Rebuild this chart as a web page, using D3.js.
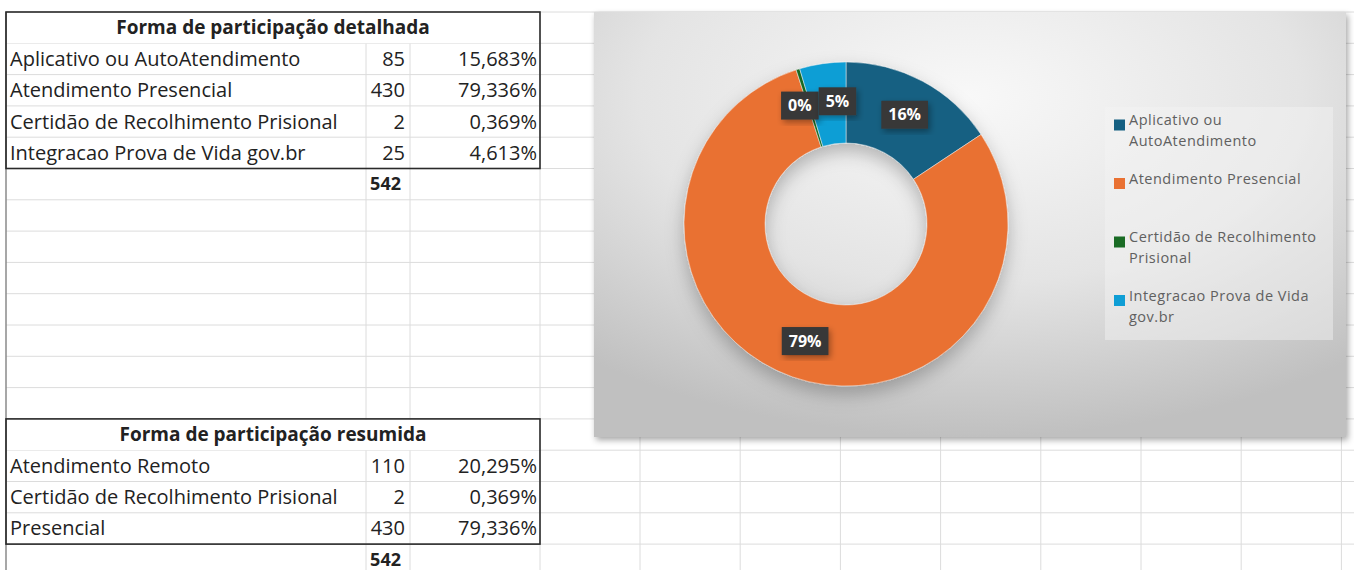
<!DOCTYPE html>
<html>
<head>
<meta charset="utf-8">
<script src="https://cdn.jsdelivr.net/npm/d3@7"></script>
<style>
    body { margin: 0; background: #fff; }
    svg { display: block; }
</style>
</head>
<body>
<svg id="sheet" width="1354" height="570"></svg>
<script>
// detailed table
const detailNames = ["Aplicativo ou AutoAtendimento", "Atendimento Presencial", "Certidão de Recolhimento Prisional", "Integracao Prova de Vida gov.br"];
const detailCounts = [85, 430, 2, 25];
const detailPcts = ["15,683%", "79,336%", "0,369%", "4,613%"];
const detailTotal = 542;

// summary table
const summaryNames = ["Atendimento Remoto", "Certidão de Recolhimento Prisional", "Presencial"];
const summaryCounts = [110, 2, 430];
const summaryPcts = ["20,295%", "0,369%", "79,336%"];
const summaryTotal = 542;

const sliceColors = ["#156082", "#E97132", "#196B24", "#0F9ED5"];

const svg = d3.select("#sheet");
const cellFont = "'Open Sans', sans-serif";
const rowH = 31.3;
const sheetTop = 12;
const rowY = i => sheetTop + i * rowH;
const colA = 6, colB = 366, colC = 410, colEnd = 540;

// spreadsheet gridlines
const grid = svg.append("g").attr("stroke", "#dcdcdc").attr("stroke-width", 1);
d3.range(0, 19).forEach(i => {
    grid.append("line").attr("x1", colA).attr("x2", 1354).attr("y1", rowY(i)).attr("y2", rowY(i));
});
[colB, colC, colEnd].concat(d3.range(640, 1354, 100.2)).forEach(x => {
    grid.append("line").attr("x1", x).attr("x2", x).attr("y1", sheetTop).attr("y2", 570);
});
svg.append("line").attr("x1", colA).attr("x2", colA).attr("y1", sheetTop).attr("y2", 570)
    .attr("stroke", "#8a8a8a").attr("stroke-width", 1.5);

function drawTable(startRow, title, names, counts, pcts, total) {
    const g = svg.append("g").attr("font-family", cellFont).attr("fill", "#222");
    // merged title cell hides the gridlines
    g.append("rect")
        .attr("x", colA + 1).attr("y", rowY(startRow) + 1)
        .attr("width", colEnd - colA - 2).attr("height", rowH - 1)
        .attr("fill", "#fff");
    g.append("text")
        .attr("x", (colA + colEnd) / 2)
        .attr("y", rowY(startRow) + rowH / 2)
        .attr("dy", "0.35em")
        .attr("text-anchor", "middle")
        .attr("font-size", 19)
        .attr("font-weight", "bold")
        .text(title);

    names.forEach((name, i) => {
        const cy = rowY(startRow + 1 + i) + rowH / 2;
        g.append("text").attr("x", colA + 4).attr("y", cy).attr("dy", "0.35em")
            .attr("font-size", 20).text(name);
        g.append("text").attr("x", colC - 5).attr("y", cy).attr("dy", "0.35em")
            .attr("text-anchor", "end").attr("font-size", 20).text(counts[i]);
        g.append("text").attr("x", colEnd - 3).attr("y", cy).attr("dy", "0.35em")
            .attr("text-anchor", "end").attr("font-size", 20).text(pcts[i]);
    });

    const totalRow = startRow + 1 + names.length;
    g.append("text")
        .attr("x", colC - 9).attr("y", rowY(totalRow) + rowH / 2).attr("dy", "0.35em")
        .attr("text-anchor", "end").attr("font-size", 18).attr("font-weight", "bold")
        .text(total);

    // table border
    g.append("rect")
        .attr("x", colA).attr("y", rowY(startRow))
        .attr("width", colEnd - colA).attr("height", rowH * (names.length + 1))
        .attr("fill", "none").attr("stroke", "#2a2a2a").attr("stroke-width", 1.6);
}

drawTable(0, "Forma de participação detalhada", detailNames, detailCounts, detailPcts, detailTotal);
drawTable(13, "Forma de participação resumida", summaryNames, summaryCounts, summaryPcts, summaryTotal);

// chart area
const defs = svg.append("defs");
const bg = defs.append("radialGradient").attr("id", "chartBg")
    .attr("cx", 0.5).attr("cy", 0.2).attr("r", 0.8);
bg.append("stop").attr("offset", "0%").attr("stop-color", "#f8f8f8");
bg.append("stop").attr("offset", "55%").attr("stop-color", "#e4e4e4");
bg.append("stop").attr("offset", "100%").attr("stop-color", "#c0c0c0");

const shadow = defs.append("filter").attr("id", "shadow")
    .attr("x", "-10%").attr("y", "-10%").attr("width", "130%").attr("height", "130%");
shadow.append("feDropShadow").attr("dx", 2).attr("dy", 3).attr("stdDeviation", 3)
    .attr("flood-color", "#000").attr("flood-opacity", 0.35);

const softShadow = defs.append("filter").attr("id", "softShadow")
    .attr("x", "-20%").attr("y", "-20%").attr("width", "140%").attr("height", "150%");
softShadow.append("feDropShadow").attr("dx", 0).attr("dy", 8).attr("stdDeviation", 9)
    .attr("flood-color", "#000").attr("flood-opacity", 0.25);

const chartX = 594, chartY = 12, chartW = 752, chartH = 425;
svg.append("rect")
    .attr("x", chartX).attr("y", chartY).attr("width", chartW).attr("height", chartH)
    .attr("fill", "url(#chartBg)")
    .attr("filter", "url(#shadow)");

// donut
const cx = 846, cy = 224, outerR = 162, innerR = 81;
const pie = d3.pie().sort(null).value(d => d.count);
const arc = d3.arc().innerRadius(innerR).outerRadius(outerR);
const slices = pie(detailNames.map((name, i) => ({ name: name, count: detailCounts[i], color: sliceColors[i] })));
const total = d3.sum(detailCounts);

const donut = svg.append("g").attr("transform", `translate(${cx},${cy})`);
donut.append("g").attr("filter", "url(#softShadow)")
    .selectAll("path")
    .data(slices)
    .join("path")
    .attr("d", arc)
    .attr("fill", d => d.data.color)
    .attr("stroke", "#f0f0f0")
    .attr("stroke-width", 0.5);

// data labels (dark boxes)
const labelArc = d3.arc().innerRadius(124).outerRadius(124);
const labels = donut.append("g")
    .attr("font-family", "'Open Sans', sans-serif")
    .attr("font-size", 16)
    .attr("font-weight", "bold");

const labelItems = slices.map(d => {
    const [lx, ly] = labelArc.centroid(d);
    const lg = labels.append("g");
    const box = lg.append("rect").attr("fill", "#383838").attr("filter", "url(#shadow)");
    const t = lg.append("text")
        .attr("text-anchor", "middle")
        .attr("dy", "0.35em")
        .attr("fill", "#fff")
        .text(Math.round(d.data.count / total * 100) + "%");
    const w = t.node().getComputedTextLength() + 14;
    box.attr("x", -w / 2).attr("y", -14).attr("width", w).attr("height", 28);
    return { g: lg, x: lx, y: ly, w: w };
});

// push apart neighbouring labels that collide (small slices)
for (let i = 1; i < labelItems.length; i++) {
    const a = labelItems[i - 1], b = labelItems[i];
    const overlap = (a.w + b.w) / 2 - Math.abs(b.x - a.x);
    if (overlap > 0 && Math.abs(b.y - a.y) < 28) {
        const dir = b.x >= a.x ? 1 : -1;
        a.x -= dir * overlap / 2;
        b.x += dir * overlap / 2;
    }
}
labelItems.forEach(l => l.g.attr("transform", `translate(${l.x},${l.y})`));

// legend
const legendX = 1105, legendY = 107;
svg.append("rect")
    .attr("x", legendX).attr("y", legendY).attr("width", 228).attr("height", 233)
    .attr("fill", "#f4f4f4").attr("opacity", 0.45);

const legend = svg.append("g")
    .attr("font-family", "'Open Sans', sans-serif")
    .attr("font-size", 14.5)
    .attr("letter-spacing", 0.5)
    .attr("fill", "#606060");

const maxLineW = 206;
detailNames.forEach((name, i) => {
    const y0 = 125 + i * 58.5;
    legend.append("rect")
        .attr("x", 1114).attr("y", y0 - 5.5).attr("width", 11).attr("height", 11)
        .attr("fill", sliceColors[i]);
    const t = legend.append("text").attr("x", 1129).attr("y", y0).attr("dy", "0.35em");
    // wrap words the way the legend does
    const words = name.split(" ");
    let line = [];
    let tspan = t.append("tspan").attr("x", 1129).attr("dy", 0);
    words.forEach(word => {
        line.push(word);
        tspan.text(line.join(" "));
        if (tspan.node().getComputedTextLength() > maxLineW && line.length > 1) {
            line.pop();
            tspan.text(line.join(" "));
            line = [word];
            tspan = t.append("tspan").attr("x", 1129).attr("dy", 21).text(word);
        }
    });
});
</script>
</body>
</html>
